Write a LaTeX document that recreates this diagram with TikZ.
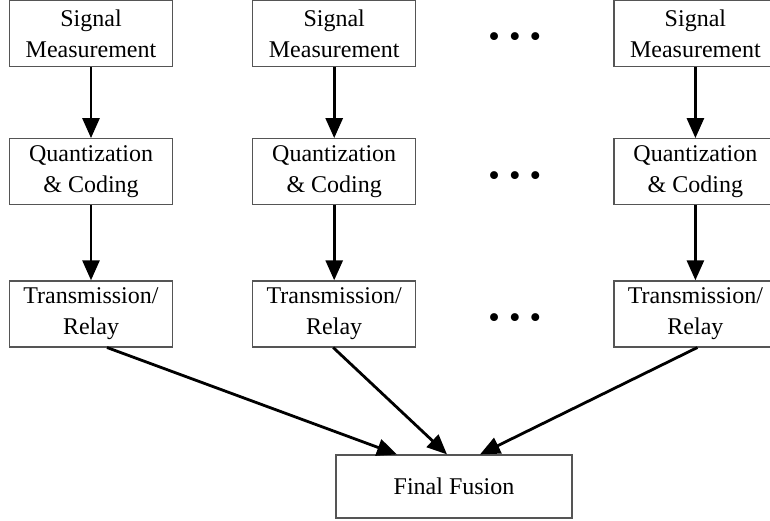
\documentclass[tikz,border=0pt]{standalone}
\usepackage{fontspec}
\setmainfont{Liberation Serif}
\usetikzlibrary{positioning,arrows.meta,calc}
\definecolor{boxgray}{HTML}{555555}

\begin{document}
\begin{tikzpicture}[x=1pt,y=1pt,node distance=71pt and 79pt, every node/.style={font=\fontsize{24}{31}\selectfont}]
    \tikzset{stagebox/.style={draw=boxgray,line width=1.2pt,align=center,minimum width=163pt,minimum height=66pt,inner sep=0pt}}
    \tikzset{flowarrow/.style={-{Triangle[width=17pt,length=20pt]},line width=2.8pt}}
    \tikzset{gapdots/.style={inner sep=0pt,yshift=-7pt,font=\fontsize{33}{33}\selectfont}}
    \useasboundingbox (0,0) rectangle (770,-520);
    % first column
    \node[stagebox] (sm1) at (91,-33.5) {Signal\\Measurement};
    \node[stagebox,below=71pt of sm1] (qc1) {Quantization\\\& Coding};
    \node[stagebox,below=75pt of qc1] (tr1) {Transmission/\\Relay};
    % second column
    \node[stagebox,right=of sm1] (sm2) {Signal\\Measurement};
    \node[stagebox,right=of qc1] (qc2) {Quantization\\\& Coding};
    \node[stagebox,right=of tr1] (tr2) {Transmission/\\Relay};
    % last column
    \node[stagebox,right=197pt of sm2] (sm3) {Signal\\Measurement};
    \node[stagebox,right=197pt of qc2] (qc3) {Quantization\\\& Coding};
    \node[stagebox,right=197pt of tr2] (tr3) {Transmission/\\Relay};
    % dots between the columns
    \node[gapdots] (d1) at ($(sm2)!0.5!(sm3)$) {\textbullet\hspace{9pt}\textbullet\hspace{9pt}\textbullet};
    \node[gapdots] (d2) at ($(qc2)!0.5!(qc3)$) {\textbullet\hspace{9pt}\textbullet\hspace{9pt}\textbullet};
    \node[gapdots] (d3) at ($(tr2)!0.5!(tr3)$) {\textbullet\hspace{9pt}\textbullet\hspace{9pt}\textbullet};
    \node[stagebox,minimum width=236pt,minimum height=63pt] (ff) at (454,-486.5) {Final Fusion};
    \draw[flowarrow] (sm1) -- (qc1);
    \draw[flowarrow] (qc1) -- (tr1);
    \draw[flowarrow] (sm2) -- (qc2);
    \draw[flowarrow] (qc2) -- (tr2);
    \draw[flowarrow] (sm3) -- (qc3);
    \draw[flowarrow] (qc3) -- (tr3);
    \draw[flowarrow] ([xshift=16pt]tr1.south) -- ([xshift=-57pt]ff.north);
    \draw[flowarrow] ([xshift=-1pt]tr2.south) -- ([xshift=-7pt]ff.north);
    \draw[flowarrow] ([xshift=2pt]tr3.south) -- ([xshift=26pt]ff.north);
\end{tikzpicture}
\end{document}
